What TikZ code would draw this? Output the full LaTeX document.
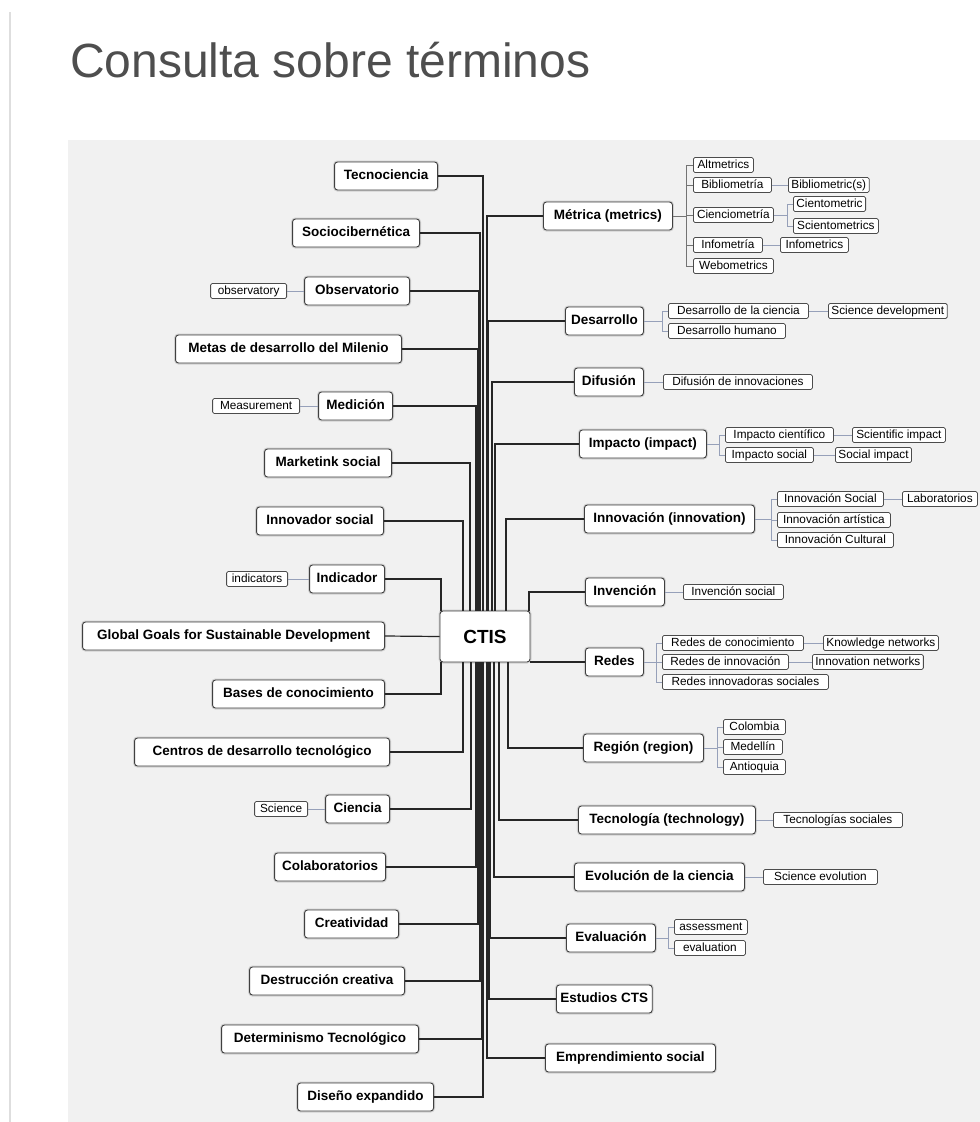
\documentclass[tikz,border=0pt]{standalone}
\usepackage{fontspec}
\setmainfont{Liberation Sans}
\definecolor{panel}{RGB}{241,241,241}
\definecolor{subline}{RGB}{150,160,185}
\definecolor{titlec}{RGB}{78,78,78}
\begin{document}
\begin{tikzpicture}[x=1pt,y=-1pt,
  mainbox/.style={draw=black!75, line width=0.9pt, fill=white, rounded corners=3pt,
    font=\bfseries\fontsize{13.5}{16}\selectfont, minimum height=28pt, inner xsep=4pt, inner ysep=2pt,
    text height=10pt, text depth=3pt,
    preaction={draw=black!18, line width=3pt}},
  subbox/.style={draw=black!70, line width=0.8pt, fill=white, rounded corners=1.5pt,
    font=\fontsize{11.8}{13}\selectfont, minimum height=15pt, inner xsep=3pt, inner ysep=1.5pt,
    text height=8.5pt, text depth=2.5pt},
  trunk/.style={draw=black!85, line width=1.2pt},
  subln/.style={draw=subline, line width=0.8pt},
  lft/.style={anchor=east}, rgt/.style={anchor=west}]
\useasboundingbox (0,0) rectangle (980,1122);
\fill[white] (0,0) rectangle (980,1122);
\draw[black!13, line width=2pt] (10,12) -- (10,1122);
\fill[panel] (68,140) rectangle (980,1122);
\node[anchor=base west, inner sep=0, font=\fontsize{48}{56}\selectfont, text=titlec] (title) at (70,77) {Consulta sobre términos};

% centre
\node[mainbox, font=\bfseries\fontsize{19}{22}\selectfont, text height=14pt, text depth=0pt, minimum width=90pt, minimum height=51pt] (ctis) at (485,636.5) {CTIS};

% left main nodes
\node[mainbox,lft,minimum width=103pt] (tecno) at (438,176) {Tecnociencia};
\node[mainbox,lft,minimum width=127pt] (socio) at (420,233) {Sociocibernética};
\node[mainbox,lft,minimum width=105pt] (obs) at (410,291) {Observatorio};
\node[mainbox,lft,minimum width=226pt] (metas) at (402,349) {Metas de desarrollo del Milenio};
\node[mainbox,lft,minimum width=74pt] (medicion) at (393,406) {Medición};
\node[mainbox,lft,minimum width=127pt] (marketink) at (392,463) {Marketink social};
\node[mainbox,lft,minimum width=127pt] (innovador) at (384,521) {Innovador social};
\node[mainbox,lft,minimum width=75pt] (indicador) at (385,579) {Indicador};
\node[mainbox,lft,minimum width=302pt] (global) at (385,636) {Global Goals for Sustainable Development};
\node[mainbox,lft,minimum width=172pt] (bases) at (385,694) {Bases de conocimiento};
\node[mainbox,lft,minimum width=255pt] (centros) at (390,752) {Centros de desarrollo tecnológico};
\node[mainbox,lft,minimum width=64pt] (ciencia) at (390,809) {Ciencia};
\node[mainbox,lft,minimum width=111pt] (colab) at (386,867) {Colaboratorios};
\node[mainbox,lft,minimum width=94pt] (creat) at (399,924) {Creatividad};
\node[mainbox,lft,minimum width=155pt] (destr) at (405,981) {Destrucción creativa};
\node[mainbox,lft,minimum width=197pt] (determ) at (419,1039) {Determinismo Tecnológico};
\node[mainbox,lft,minimum width=136pt] (diseno) at (434,1097) {Diseño expandido};

% left sub nodes
\node[subbox,lft,minimum width=76pt] (observatory) at (287,291) {observatory};
\node[subbox,lft,minimum width=87pt] (measurement) at (300,406) {Measurement};
\node[subbox,lft,minimum width=61pt] (indicators) at (288,579) {indicators};
\node[subbox,lft,minimum width=53pt] (science) at (308,809) {Science};

% right main nodes
\node[mainbox,rgt,minimum width=129pt] (metrica) at (543,216) {Métrica (metrics)};
\node[mainbox,rgt,minimum width=78pt] (desarrollo) at (565,321) {Desarrollo};
\node[mainbox,rgt,minimum width=69pt] (difusion) at (574,382) {Difusión};
\node[mainbox,rgt,minimum width=127pt] (impacto) at (579,444) {Impacto (impact)};
\node[mainbox,rgt,minimum width=170pt] (innovacion) at (584,519) {Innovación (innovation)};
\node[mainbox,rgt,minimum width=79pt] (invencion) at (585,592) {Invención};
\node[mainbox,rgt,minimum width=58pt] (redes) at (585,662) {Redes};
\node[mainbox,rgt,minimum width=120pt] (region) at (583,748) {Región (region)};
\node[mainbox,rgt,minimum width=177pt] (tecnologia) at (578,820) {Tecnología (technology)};
\node[mainbox,rgt,minimum width=170pt] (evolucion) at (574,877) {Evolución de la ciencia};
\node[mainbox,rgt,minimum width=89pt] (evaluacion) at (566,938) {Evaluación};
\node[mainbox,rgt,minimum width=80pt] (estudios) at (556,999) {Estudios CTS};
\node[mainbox,rgt,minimum width=170pt] (empr) at (545,1058) {Emprendimiento social};

% right sub nodes
\node[subbox,rgt,minimum width=60pt] (alt) at (693,165) {Altmetrics};
\node[subbox,rgt,minimum width=78pt] (biblio) at (693,185) {Bibliometría};
\node[subbox,rgt,minimum width=80pt] (ciencio) at (693,215) {Cienciometría};
\node[subbox,rgt,minimum width=69pt] (info) at (693,245) {Infometría};
\node[subbox,rgt,minimum width=80pt] (webo) at (693,266) {Webometrics};
\node[subbox,rgt,minimum width=80pt] (biblios) at (788,185) {Bibliometric(s)};
\node[subbox,rgt,minimum width=72pt] (cientom) at (793,204) {Cientometric};
\node[subbox,rgt,minimum width=85pt] (scientom) at (793,226) {Scientometrics};
\node[subbox,rgt,minimum width=68pt] (infos) at (780,245) {Infometrics};

\node[subbox,rgt,minimum width=140pt] (des1) at (668,311) {Desarrollo de la ciencia};
\node[subbox,rgt,minimum width=117pt] (des2) at (668,331) {Desarrollo humano};
\node[subbox,rgt,minimum width=113pt] (scidev) at (828,311) {Science development};
\node[subbox,rgt,minimum width=149pt] (dif1) at (663,382) {Difusión de innovaciones};
\node[subbox,rgt,minimum width=108pt] (imp1) at (725,435) {Impacto científico};
\node[subbox,rgt,minimum width=88pt] (imp2) at (725,455) {Impacto social};
\node[subbox,rgt,minimum width=93pt] (sciimp) at (852,435) {Scientific impact};
\node[subbox,rgt,minimum width=68pt] (socimp) at (835,455) {Social impact};
\node[subbox,rgt,minimum width=106pt] (inn1) at (777,499) {Innovación Social};
\node[subbox,rgt,minimum width=113pt] (inn2) at (777,520) {Innovación artística};
\node[subbox,rgt,minimum width=116pt] (inn3) at (777,540) {Innovación Cultural};
\node[subbox,rgt,minimum width=75pt] (lab) at (902,499) {Laboratorios};
\node[subbox,rgt,minimum width=100pt] (inv1) at (683,592) {Invención social};
\node[subbox,rgt,minimum width=141pt] (red1) at (662,643) {Redes de conocimiento};
\node[subbox,rgt,minimum width=126pt] (red2) at (662,662) {Redes de innovación};
\node[subbox,rgt,minimum width=166pt] (red3) at (662,682) {Redes innovadoras sociales};
\node[subbox,rgt,minimum width=115pt] (know) at (823,643) {Knowledge networks};
\node[subbox,rgt,minimum width=101pt] (innet) at (812,662) {Innovation networks};
\node[subbox,rgt,minimum width=62pt] (col) at (723,727) {Colombia};
\node[subbox,rgt,minimum width=59pt] (med) at (723,747) {Medellín};
\node[subbox,rgt,minimum width=62pt] (ant) at (723,767) {Antioquia};
\node[subbox,rgt,minimum width=129pt] (tec1) at (773,820) {Tecnologías sociales};
\node[subbox,rgt,minimum width=114pt] (sciev) at (763,877) {Science evolution};
\node[subbox,rgt,minimum width=73pt] (ass) at (674,927) {assessment};
\node[subbox,rgt,minimum width=71pt] (evalu) at (674,948) {evaluation};

% trunk connectors, left top
\draw[trunk] (tecno.east) -| ([xshift=-2pt]ctis.north);
\draw[trunk] (socio.east) -| ([xshift=-5pt]ctis.north);
\draw[trunk] (obs.east) -| ([xshift=-6pt]ctis.north);
\draw[trunk] (metas.east) -| ([xshift=-7pt]ctis.north);
\draw[trunk] (medicion.east) -| ([xshift=-9pt]ctis.north);
\draw[trunk] (marketink.east) -| ([xshift=-15pt]ctis.north);
\draw[trunk] (innovador.east) -| ([xshift=-22pt]ctis.north);
\draw[trunk] (indicador.east) -| ([xshift=-44pt]ctis.north);
\draw[trunk] (global.east) -- (ctis.west);
% left bottom
\draw[trunk] (bases.east) -| ([xshift=-44pt]ctis.south);
\draw[trunk] (centros.east) -| ([xshift=-22pt]ctis.south);
\draw[trunk] (ciencia.east) -| ([xshift=-14pt]ctis.south);
\draw[trunk] (colab.east) -| ([xshift=-9pt]ctis.south);
\draw[trunk] (creat.east) -| ([xshift=-7pt]ctis.south);
\draw[trunk] (destr.east) -| ([xshift=-5pt]ctis.south);
\draw[trunk] (determ.east) -| ([xshift=-3pt]ctis.south);
\draw[trunk] (diseno.east) -| ([xshift=-2pt]ctis.south);
% right top
\draw[trunk] ([xshift=2pt]ctis.north) |- (metrica.west);
\draw[trunk] ([xshift=3pt]ctis.north) |- (desarrollo.west);
\draw[trunk] ([xshift=7pt]ctis.north) |- (difusion.west);
\draw[trunk] ([xshift=10pt]ctis.north) |- (impacto.west);
\draw[trunk] ([xshift=21pt]ctis.north) |- (innovacion.west);
\draw[trunk] ([xshift=44pt]ctis.north) |- (invencion.west);
% right bottom
\draw[trunk] (ctis.east |- redes.west) -- (redes.west);
\draw[trunk] ([xshift=23pt]ctis.south) |- (region.west);
\draw[trunk] ([xshift=14pt]ctis.south) |- (tecnologia.west);
\draw[trunk] ([xshift=9pt]ctis.south) |- (evolucion.west);
\draw[trunk] ([xshift=5pt]ctis.south) |- (evaluacion.west);
\draw[trunk] ([xshift=4pt]ctis.south) |- (estudios.west);
\draw[trunk] ([xshift=2pt]ctis.south) |- (empr.west);

% sub connectors, left
\draw[subln] (observatory.east) -- (obs.west);
\draw[subln] (measurement.east) -- (medicion.west);
\draw[subln] (indicators.east) -- (indicador.west);
\draw[subln] (science.east) -- (ciencia.west);

% sub connectors, right
\draw[subln, draw=black!55] (metrica.east) -- ([xshift=-7pt]alt.west |- metrica.east);
\draw[subln, draw=black!55] ([xshift=-7pt]alt.west) -- ([xshift=-7pt]webo.west);
\foreach \c in {alt,biblio,ciencio,info,webo} \draw[subln, draw=black!55] (\c.west) -- ++(-7,0);
\draw[subln] (biblio.east) -- (biblios.west);
\draw[subln] (ciencio.east) -- ([xshift=-6pt]cientom.west |- ciencio.east);
\draw[subln] ([xshift=-6pt]cientom.west) -- ([xshift=-6pt]scientom.west);
\foreach \c in {cientom,scientom} \draw[subln] (\c.west) -- ++(-6,0);
\draw[subln] (info.east) -- (infos.west);

\draw[subln] (desarrollo.east) -- ([xshift=-6pt]des1.west |- desarrollo.east);
\draw[subln] ([xshift=-6pt]des1.west) -- ([xshift=-6pt]des2.west);
\foreach \c in {des1,des2} \draw[subln] (\c.west) -- ++(-6,0);
\draw[subln] (des1.east) -- (scidev.west);
\draw[subln] (difusion.east) -- (dif1.west);

\draw[subln] (impacto.east) -- ([xshift=-6pt]imp1.west |- impacto.east);
\draw[subln] ([xshift=-6pt]imp1.west) -- ([xshift=-6pt]imp2.west);
\foreach \c in {imp1,imp2} \draw[subln] (\c.west) -- ++(-6,0);
\draw[subln] (imp1.east) -- (sciimp.west);
\draw[subln] (imp2.east) -- (socimp.west);

\draw[subln] (innovacion.east) -- ([xshift=-6pt]inn1.west |- innovacion.east);
\draw[subln] ([xshift=-6pt]inn1.west) -- ([xshift=-6pt]inn3.west);
\foreach \c in {inn1,inn2,inn3} \draw[subln] (\c.west) -- ++(-6,0);
\draw[subln] (inn1.east) -- (lab.west);

\draw[subln] (invencion.east) -- (inv1.west);

\draw[subln] (redes.east) -- ([xshift=-6pt]red1.west |- redes.east);
\draw[subln] ([xshift=-6pt]red1.west) -- ([xshift=-6pt]red3.west);
\foreach \c in {red1,red2,red3} \draw[subln] (\c.west) -- ++(-6,0);
\draw[subln] (red1.east) -- (know.west);
\draw[subln] (red2.east) -- (innet.west);

\draw[subln] (region.east) -- ([xshift=-6pt]col.west |- region.east);
\draw[subln] ([xshift=-6pt]col.west) -- ([xshift=-6pt]ant.west);
\foreach \c in {col,med,ant} \draw[subln] (\c.west) -- ++(-6,0);

\draw[subln] (tecnologia.east) -- (tec1.west);
\draw[subln] (evolucion.east) -- (sciev.west);

\draw[subln] (evaluacion.east) -- ([xshift=-6pt]ass.west |- evaluacion.east);
\draw[subln] ([xshift=-6pt]ass.west) -- ([xshift=-6pt]evalu.west);
\foreach \c in {ass,evalu} \draw[subln] (\c.west) -- ++(-6,0);
\end{tikzpicture}
\end{document}
